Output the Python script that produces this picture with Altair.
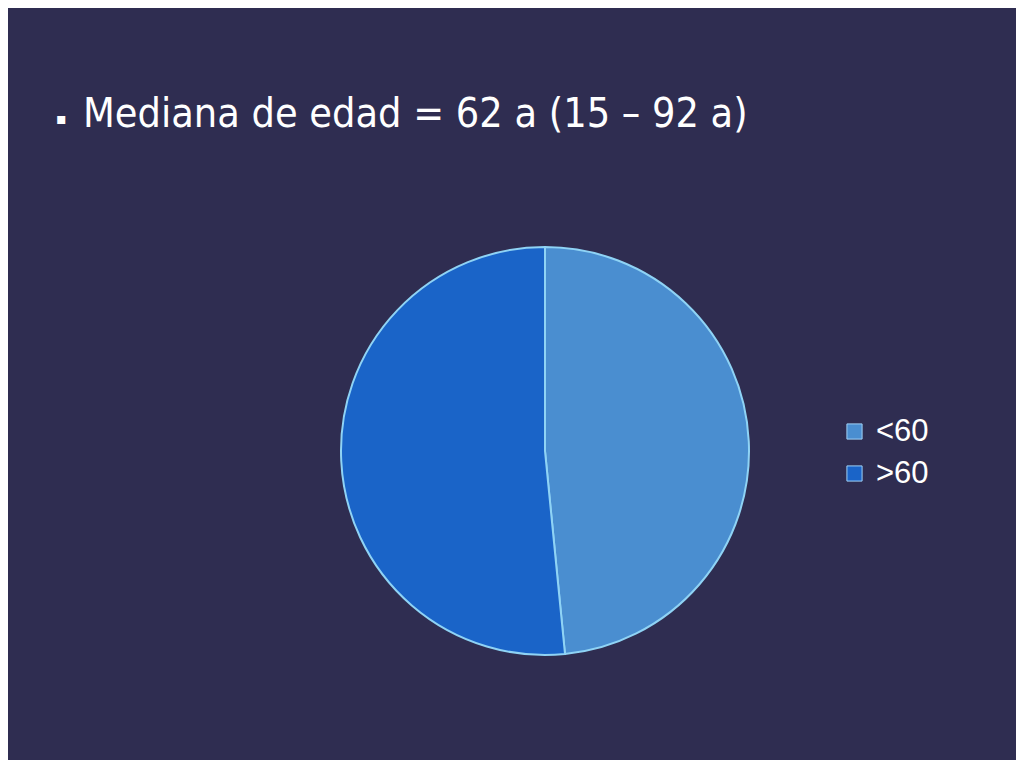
import altair as alt
import pandas as pd

categories = ["<60", ">60"]
values = [31, 33]
colors = ["#4a8ed0", "#1a64c8"]
title_text = "Mediana de edad = 62 a (15 – 92 a)"

df = pd.DataFrame({"grupo": categories, "n": values, "orden": [0, 1]})

pie = alt.Chart(df).mark_arc(radius=204, stroke="#8fd3f5", strokeWidth=2).encode(
    theta=alt.Theta("n:Q", stack=True),
    order=alt.Order("orden:Q"),
    color=alt.Color(
        "grupo:N",
        scale=alt.Scale(domain=categories, range=colors),
        legend=alt.Legend(
            title=None,
            orient="none",
            legendX=831,
            legendY=408,
            symbolType="square",
            symbolSize=230,
            symbolStrokeColor="#9fd0f5",
            symbolStrokeWidth=1,
            labelColor="white",
            labelFont="Liberation Sans",
            labelFontSize=31,
            rowPadding=10,
            labelOffset=6,
        ),
    ),
    x=alt.value(537),
    y=alt.value(443),
)

title_df = pd.DataFrame({"t": [title_text], "b": ["▪"]})
title = alt.Chart(title_df).mark_text(
    align="left", baseline="middle", font="DejaVu Sans Condensed",
    fontSize=41, color="white"
).encode(text="t:N", x=alt.value(75), y=alt.value(107))
bullet = alt.Chart(title_df).mark_text(
    align="left", baseline="middle", font="DejaVu Sans",
    fontSize=16, color="white"
).encode(text="b:N", x=alt.value(48), y=alt.value(111))

chart = alt.layer(pie, title, bullet).properties(
    width=1008, height=752,
    autosize=alt.AutoSizeParams(type="fit", contains="padding"),
    padding=0,
    background="#2f2d51",
).configure_view(stroke=None)

chart.save("out.html", embed_options={"renderer": "svg", "actions": False})
